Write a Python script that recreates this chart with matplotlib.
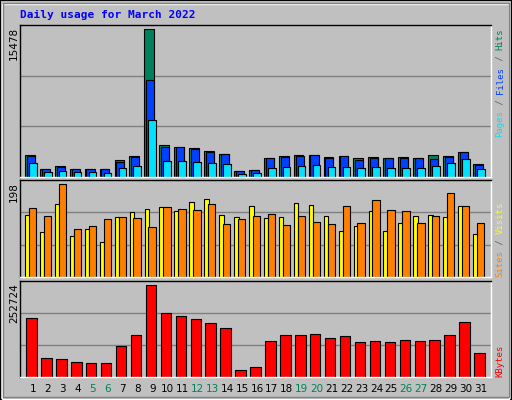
import numpy as np
import matplotlib
matplotlib.use('Agg')
import matplotlib.pyplot as plt
from matplotlib.patches import Rectangle

days = np.arange(1, 32)
weekends = [5, 6, 12, 13, 19, 20, 26, 27]

# values
hits = [2290, 875, 1120, 875, 875, 875, 1750, 2170, 15478, 3290, 3080, 2975, 2765, 2450, 665, 770,
        1960, 2170, 2275, 2275, 2065, 2170, 1960, 2065, 1960, 2065, 1960, 2275, 2170, 2660, 1400]
files = [2240, 840, 1000, 840, 840, 840, 1610, 2100, 10100, 3150, 3080, 2900, 2660, 2350, 600, 720,
         1940, 2100, 2230, 2275, 1960, 2170, 1820, 2000, 1940, 1960, 1960, 1900, 2100, 2660, 1250]
pages = [1500, 560, 665, 560, 560, 455, 980, 1190, 5915, 1715, 1715, 1610, 1505, 1400, 350, 455,
         980, 1085, 1190, 1295, 1085, 1085, 980, 1085, 980, 980, 980, 1190, 1505, 1925, 875]
sites = [131, 95, 155, 88, 101, 75, 127, 137, 144, 148, 140, 159, 165, 131, 127, 151, 125, 127,
         157, 153, 129, 97, 108, 140, 97, 114, 129, 131, 127, 151, 91]
visits = [146, 129, 198, 101, 108, 123, 127, 125, 106, 148, 144, 142, 155, 112, 123, 129, 134, 110,
          129, 116, 112, 151, 114, 164, 142, 140, 114, 129, 179, 151, 114]
kbytes = [161000, 53000, 48000, 42000, 37000, 39000, 84000, 114000, 252724, 176000, 167000,
          159000, 148000, 134000, 20000, 28000, 98000, 114000, 114000, 117000, 106000, 111000,
          95000, 98000, 95000, 100000, 98000, 100000, 114000, 150000, 67000]

BG = '#C0C0C0'
W, H = 512, 400
fig = plt.figure(figsize=(W / 100, H / 100), dpi=100, facecolor=BG)

# beveled outer frame
fig.patches.append(Rectangle((0, 0), 1, 1, transform=fig.transFigure, fill=False, edgecolor='black', lw=1.5))
fig.patches.append(Rectangle((1.5 / W, 1.5 / H), 1 - 5 / W, 1 - 5 / H, transform=fig.transFigure,
                             fill=False, edgecolor='white', lw=1))
fig.patches.append(Rectangle((3 / W, 3 / H), 1 - 6 / W, 1 - 6 / H, transform=fig.transFigure,
                             fill=False, edgecolor='#808080', lw=1))

fig.text(20 / W, 1 - 15 / H, 'Daily usage for March 2022', color='#0000FF', fontsize=8,
         family='DejaVu Sans Mono', fontweight='bold', va='center', ha='left')

def panel(top, bottom):
    ax = fig.add_axes([20 / W, 1 - bottom / H, 471 / W, (bottom - top) / H])
    ax.set_facecolor(BG)
    ax.set_xlim(0.13, 31.67)
    ax.set_xticks([])
    ax.set_yticks([])
    ax.spines['left'].set_color('black')
    ax.spines['top'].set_color('black')
    ax.spines['right'].set_color('white')
    ax.spines['bottom'].set_color('white')
    for s in ax.spines.values():
        s.set_linewidth(1)
    return ax

def grid(ax, top):
    ax.set_ylim(0, top)
    for f in (1 / 3, 2 / 3):
        ax.axhline(top * f, color='#808080', lw=1, zorder=0)

kw = dict(align='edge', edgecolor='black', linewidth=0.8, zorder=2)

ax1 = panel(25, 177)
grid(ax1, 15478 * 1.025)
ax1.bar(days - 0.54, hits, 0.65, color='#00805C', **kw)
ax1.bar(days - 0.42, files, 0.54, color='#0040FF', **kw)
ax1.bar(days - 0.27, pages, 0.51, color='#00E0FF', **kw)

ax2 = panel(180, 277)
grid(ax2, 198 * 1.04)
ax2.bar(days - 0.53, sites, 0.3, color='#FFFF00', **kw)
ax2.bar(days - 0.27, visits, 0.49, color='#FF8000', **kw)

ax3 = panel(281, 377)
grid(ax3, 252724 * 1.04)
ax3.bar(days - 0.45, kbytes, 0.7, color='#FF0000', **kw)

# max value labels
for ax_top, val in [(27, '15478'), (182, '198'), (283, '252724')]:
    fig.text(14 / W, 1 - ax_top / H, val, rotation=90, fontsize=7.5, va='top', ha='center',
             color='black')

# right side legends, built bottom-up
def side_label(bottom_px, parts):
    fs = 6.5
    cpx = 0.602 * fs * 100 / 72
    y = bottom_px
    for txt, c in parts:
        fig.text(500 / W, 1 - y / H, txt, rotation=90, rotation_mode='anchor', fontsize=fs,
                 family='DejaVu Sans Mono', color=c, va='center', ha='left')
        y -= cpx * len(txt)

side_label(137, [('Pages', '#00E0FF'), (' / ', '#606060'), ('Files', '#0040FF'), (' / ', '#606060'),
                 ('Hits', '#00805C')])
side_label(277, [('Sites', '#FF8000'), (' / ', '#606060'), ('Visits', '#FFFF00')])
side_label(377, [('KBytes', '#FF0000')])

# day labels
for d in days:
    x = (33 + (d - 1) * 14.93) / W
    fig.text(x, 1 - 389 / H, str(d), fontsize=7.5, ha='center', va='center',
             color='#00805C' if d in weekends else 'black')

fig.savefig('out.png', dpi=100, facecolor=BG)
